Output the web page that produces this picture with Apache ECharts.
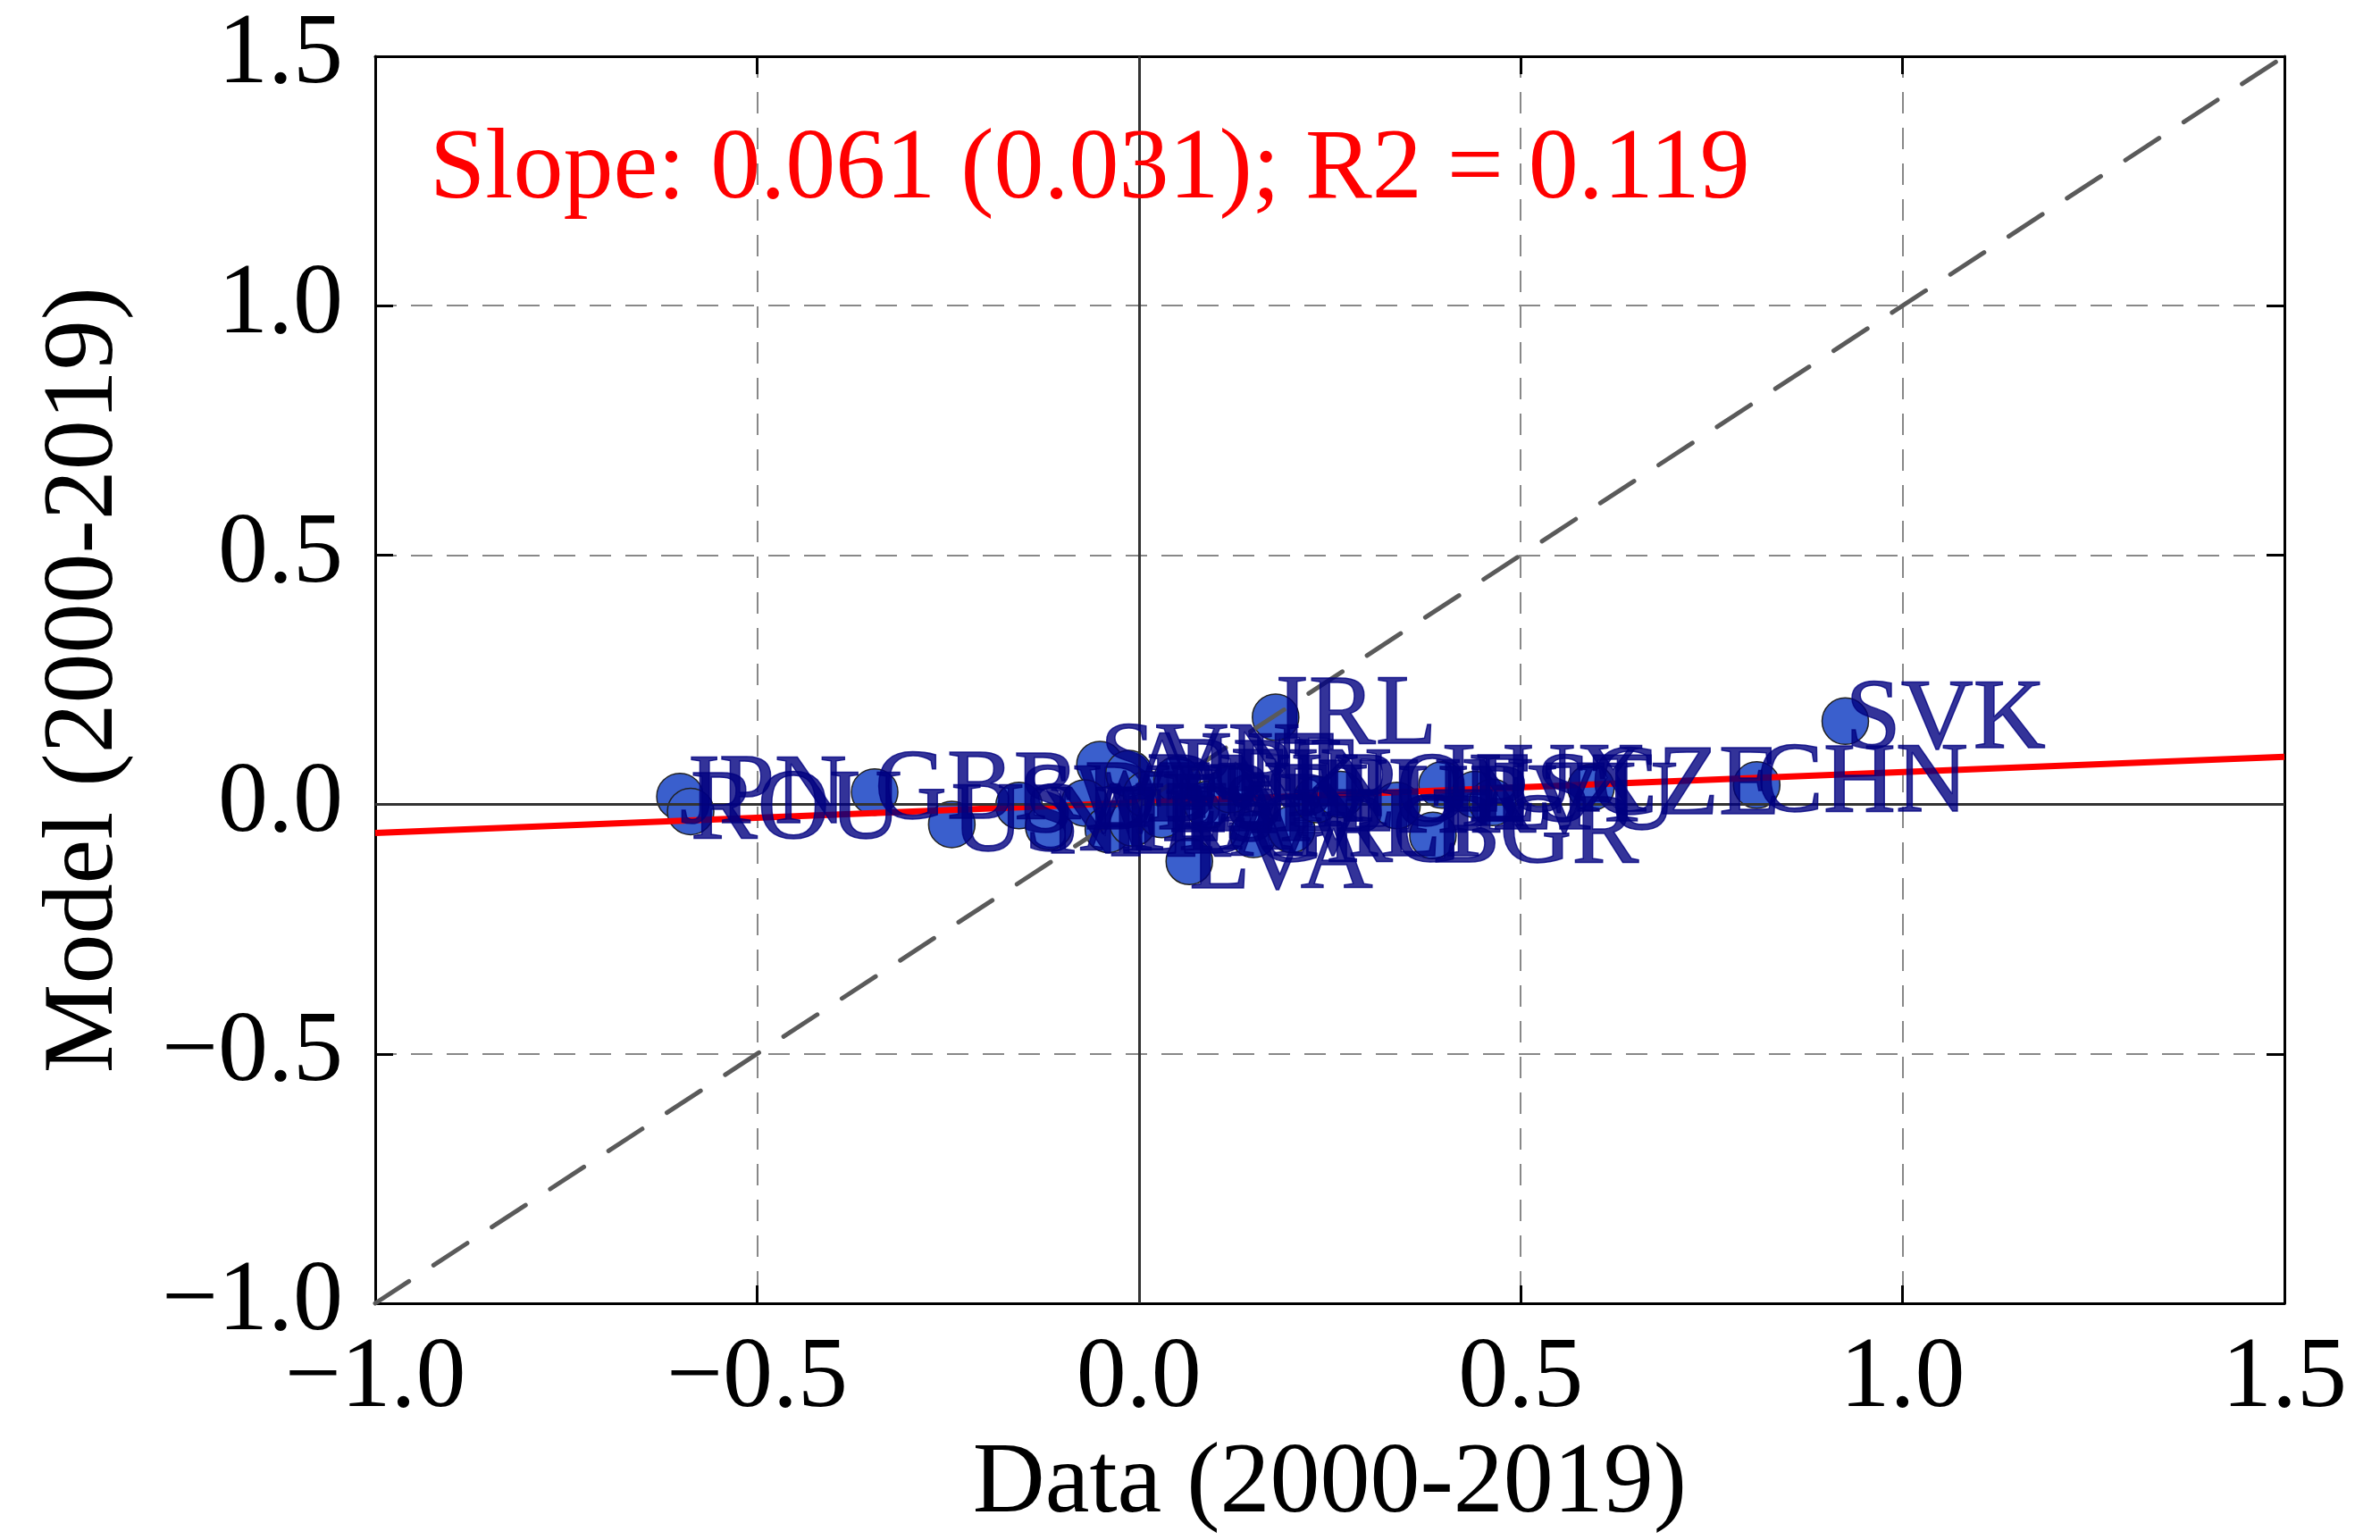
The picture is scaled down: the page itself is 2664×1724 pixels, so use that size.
<!DOCTYPE html>
<html>
<head>
<meta charset="utf-8">
<script src="https://cdn.jsdelivr.net/npm/echarts@6/dist/echarts.min.js"></script>
<style>
html,body{margin:0;padding:0;background:#fff;}
#chart{width:2664px;height:1724px;}
</style>
</head>
<body>
<div id="chart"></div>
<script>
// ---- data ----
const countries = ['JPN','ROU','GBR','USA','SWE','NLD','SVN','DEU','AUT','FRA','ITA','DNK','ESP','PRT','LVA','BEL','FIN','IRL','GRC','MLT','HUN','POL','HRV','LUX','BGR','EST','LTU','CZE','CHN','SVK'];
const dataX = [-0.601,-0.587,-0.346,-0.245,-0.157,-0.118,-0.051,-0.071,-0.013,-0.040,-0.008,0.010,0.030,0.050,0.066,0.090,0.120,0.179,0.150,0.200,0.233,0.264,0.338,0.397,0.385,0.440,0.463,0.592,0.809,0.925];
const modelY = [0.016,-0.014,0.025,-0.040,-0.002,-0.044,0.080,0.003,0.062,-0.050,-0.037,0.020,-0.020,0.050,-0.114,0.000,0.030,0.175,-0.060,-0.050,0.010,0.020,-0.002,0.039,-0.062,0.020,0.004,0.034,0.039,0.167];
const fitSlope = 0.061;
const fitSlopeSE = 0.031;
const fitIntercept = 0.004;
const fitR2 = 0.119;
const axisMin = -1.0;
const axisMax = 1.5;
const axisStep = 0.5;
const xName = 'Data (2000-2019)';
const yName = 'Model (2000-2019)';

// ---- build ----
const FONT = 'Liberation Serif';
const pts = dataX.map((x, i) => [x, modelY[i], countries[i]]);
const fitLine = [[axisMin, fitIntercept + fitSlope * axisMin], [axisMax, fitIntercept + fitSlope * axisMax]];
const diag = [[axisMin, axisMin], [axisMax, axisMax]];
const fmt = v => Number(v).toFixed(1).replace('-', '\u2212');
const annotation = 'Slope: ' + fitSlope.toFixed(3) + ' (' + fitSlopeSE.toFixed(3) + '); R2 = ' + fitR2.toFixed(3);

const mainAxis = (isX) => ({
  type: 'value', min: axisMin, max: axisMax, interval: axisStep,
  name: isX ? xName : yName,
  nameLocation: 'middle',
  nameGap: isX ? 148 : 268,
  nameRotate: isX ? 0 : 90,
  nameTextStyle: { fontFamily: FONT, fontSize: 112, color: '#000' },
  axisLine: { show: true, onZero: false, lineStyle: { color: '#000', width: 3 } },
  axisTick: { show: true, inside: true, length: 20, lineStyle: { color: '#000', width: 3 } },
  axisLabel: { fontFamily: FONT, fontSize: 112, color: '#000', margin: isX ? 30 : 36, formatter: fmt },
  splitLine: { show: true, lineStyle: { color: '#888', width: 2, type: [24, 16] } }
});
const mirrorAxis = (pos) => ({
  type: 'value', min: axisMin, max: axisMax, interval: axisStep, position: pos,
  axisLine: { show: true, onZero: false, lineStyle: { color: '#000', width: 3 } },
  axisTick: { show: true, inside: true, length: 20, lineStyle: { color: '#000', width: 3 } },
  axisLabel: { show: false },
  splitLine: { show: false }
});

const chart = echarts.init(document.getElementById('chart'), null, { renderer: 'canvas' });
chart.setOption({
  animation: false,
  backgroundColor: '#fff',
  grid: { left: 420, right: 107, top: 63, bottom: 232, containLabel: false },
  xAxis: [mainAxis(true), mirrorAxis('top')],
  yAxis: [mainAxis(false), mirrorAxis('right')],
  graphic: [{
    type: 'text', left: 481, top: 136, z: 100,
    style: { text: annotation, fill: '#ff0000', font: '112px "Liberation Serif"' }
  }],
  series: [
    {
      type: 'scatter', z: 2, data: pts, symbolSize: 52,
      itemStyle: { color: '#3a5fcd', borderColor: '#222', borderWidth: 1.5, opacity: 1 },
      label: { show: false }
    },
    {
      type: 'line', z: 3, data: [], symbol: 'none',
      markLine: {
        silent: true, symbol: 'none', label: { show: false },
        data: [
          { xAxis: 0, lineStyle: { color: '#333', width: 3, type: 'solid' } },
          { yAxis: 0, lineStyle: { color: '#333', width: 3, type: 'solid' } },
          [{ coord: diag[0], lineStyle: { color: '#5a5a5a', width: 5, type: [45, 33], cap: 'round' } }, { coord: diag[1] }]
        ]
      }
    },
    {
      type: 'line', z: 4, data: fitLine, symbol: 'none',
      lineStyle: { color: '#ff0000', width: 7 }
    },
    {
      type: 'scatter', z: 5, data: pts, symbolSize: 0,
      itemStyle: { color: 'transparent' },
      label: {
        show: true, position: 'right', distance: 0, offset: [-4, 16],
        formatter: p => p.data[2],
        fontFamily: FONT, fontSize: 112, color: '#000080',
        textBorderColor: '#000080', textBorderWidth: 1.5
      },
      labelLayout: { hideOverlap: false }
    }
  ]
});
</script>
</body>
</html>
